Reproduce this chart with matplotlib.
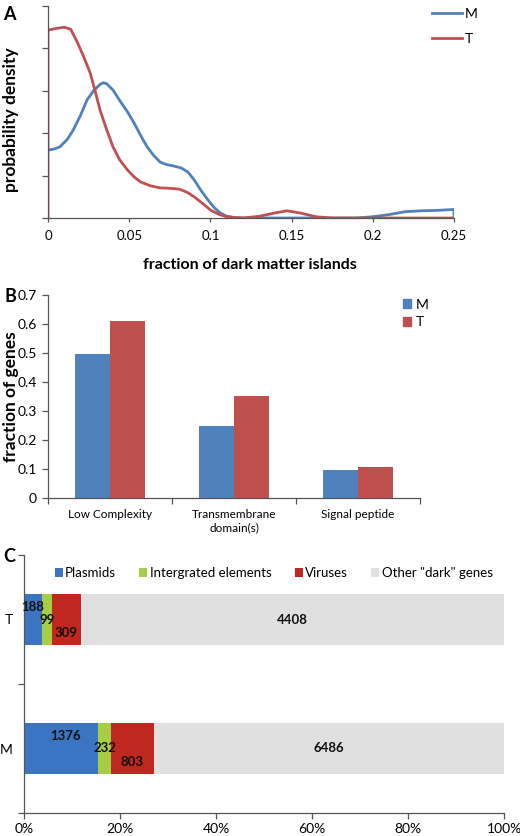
import numpy as np
import matplotlib
matplotlib.use("Agg")
import matplotlib.pyplot as plt
from matplotlib.lines import Line2D
from matplotlib.patches import Patch

plt.rcParams['font.family'] = ['Lato', 'DejaVu Sans']

# ---------------- data ----------------
# Panel A: density curves
m_x = [0, 0.004, 0.0074, 0.012, 0.0156, 0.02, 0.024, 0.028, 0.032, 0.034, 0.036, 0.040, 0.044,
       0.049, 0.053, 0.057, 0.061, 0.065, 0.069, 0.073, 0.077, 0.082, 0.086, 0.09, 0.094,
       0.098, 0.102, 0.106, 0.11, 0.115, 0.12, 0.19, 0.2, 0.21, 0.22, 0.23, 0.24, 0.249, 0.25, 0.25]
m_y = [1.6, 1.63, 1.68, 1.86, 2.08, 2.42, 2.78, 3.0, 3.15, 3.19, 3.17, 3.02, 2.78,
       2.5, 2.24, 1.95, 1.68, 1.48, 1.32, 1.26, 1.23, 1.18, 1.09, 0.90, 0.66,
       0.45, 0.26, 0.12, 0.04, 0.01, 0.0, 0.0, 0.03, 0.08, 0.15, 0.17, 0.18, 0.2, 0.2, 0.0]
t_x = [0, 0, 0.005, 0.01, 0.014, 0.018, 0.022, 0.026, 0.029, 0.032, 0.036, 0.040, 0.044,
       0.049, 0.053, 0.057, 0.063, 0.069, 0.075, 0.081, 0.086, 0.090, 0.095, 0.1, 0.105,
       0.11, 0.115, 0.12, 0.13, 0.14, 0.147, 0.155, 0.165, 0.175, 0.2, 0.25]
t_y = [0, 4.43, 4.47, 4.5, 4.45, 4.15, 3.8, 3.42, 3.0, 2.55, 2.1, 1.68, 1.38,
       1.13, 0.97, 0.85, 0.76, 0.71, 0.70, 0.68, 0.60, 0.50, 0.35, 0.19, 0.09,
       0.03, 0.01, 0.0, 0.04, 0.12, 0.17, 0.12, 0.03, 0.0, 0.0, 0.0]
a_xticks = [0, 0.05, 0.1, 0.15, 0.2, 0.25]
a_xticklabels = ['0', '0.05', '0.1', '0.15', '0.2', '0.25']

# Panel B
b_categories = ['Low Complexity', 'Transmembrane\ndomain(s)', 'Signal peptide']
b_M = [0.495, 0.248, 0.097]
b_T = [0.61, 0.352, 0.107]
b_yticks = [0, 0.1, 0.2, 0.3, 0.4, 0.5, 0.6, 0.7]

# Panel C
c_groups = ['M', 'T']
c_segments = ['Plasmids', 'Intergrated elements', 'Viruses', 'Other "dark" genes']
c_M = [1376, 232, 803, 6486]
c_T = [188, 99, 309, 4408]

# ---------------- styles ----------------
BLUE_A = '#4F81BD'
RED_A = '#C0504D'
C_COLORS = ['#3B74C0', '#A6CE45', '#C0281F', '#E0E0E0']
AX_C = '#555555'

W, H = 520, 836
fig = plt.figure(figsize=(W / 100, H / 100), dpi=100)

def rect(l, t, r, b):
    return [l / W, 1 - b / H, (r - l) / W, (b - t) / H]

def fx(px):
    return px / W

def fy(py):
    return 1 - py / H

def style_spines(ax):
    for s in ['top', 'right']:
        ax.spines[s].set_visible(False)
    for s in ['left', 'bottom']:
        ax.spines[s].set_color(AX_C)
        ax.spines[s].set_linewidth(0.9)

# ---------------- Panel A ----------------
axA = fig.add_axes(rect(48, 6, 454, 218))
axA.plot(m_x, m_y, color=BLUE_A, lw=2.0, solid_joinstyle='round')
axA.plot(t_x, t_y, color=RED_A, lw=2.0, solid_joinstyle='round')
axA.set_xlim(0, 0.25)
axA.set_ylim(0, 5)
axA.set_yticks([0, 1, 2, 3, 4, 5])
axA.set_yticklabels([])
axA.set_xticks(a_xticks)
axA.set_xticklabels(a_xticklabels, fontsize=9.5)
style_spines(axA)
axA.tick_params(axis='y', length=4, color=AX_C, width=0.9)
axA.tick_params(axis='x', length=3, color=AX_C, width=0.9, pad=6)
axA.set_xlabel('fraction of dark matter islands', fontsize=11.5, fontweight='bold')
axA.xaxis.set_label_coords(fx(250), fy(258), transform=fig.transFigure)
axA.set_ylabel('probability density', fontsize=12.5, fontweight='bold')
axA.yaxis.label.set_verticalalignment('center')
axA.yaxis.set_label_coords(fx(11), fy(120), transform=fig.transFigure)
fig.legend(handles=[Line2D([], [], color=BLUE_A, lw=2.0, label='M'),
                    Line2D([], [], color=RED_A, lw=2.0, label='T')],
           loc='upper left', bbox_to_anchor=(fx(422), fy(-2)), frameon=False,
           fontsize=10, handlelength=2.2, handletextpad=0.2, labelspacing=0.95,
           borderpad=0.2)
fig.text(fx(9), fy(14), 'A', fontsize=13, fontweight='bold', ha='center', va='center')

# ---------------- Panel B ----------------
axB = fig.add_axes(rect(48, 295, 420, 498))
x = np.arange(len(b_categories))
bw = 0.282
axB.bar(x - bw / 2, b_M, width=bw, color=BLUE_A, label='M')
axB.bar(x + bw / 2, b_T, width=bw, color=RED_A, label='T')
axB.set_xlim(-0.5, 2.5)
axB.set_ylim(0, 0.7)
axB.set_yticks(b_yticks)
axB.set_yticklabels(['0'] + ['%.1f' % v for v in b_yticks[1:]], fontsize=10)
axB.set_xticks(x)
axB.set_xticklabels(b_categories, fontsize=8.5)
axB.set_xticks([-0.5, 0.5, 1.5, 2.5], minor=True)
axB.tick_params(axis='x', which='major', length=0, pad=8)
axB.tick_params(axis='x', which='minor', length=4, color=AX_C, width=0.9)
axB.tick_params(axis='y', length=4, color=AX_C, width=0.9, pad=4)
style_spines(axB)
axB.set_ylabel('fraction of genes', fontsize=12.5, fontweight='bold')
axB.yaxis.label.set_verticalalignment('center')
axB.yaxis.set_label_coords(fx(11), fy(397), transform=fig.transFigure)
fig.legend(handles=[Patch(color=BLUE_A, label='M'), Patch(color=RED_A, label='T')],
           loc='upper left', bbox_to_anchor=(fx(393), fy(289)), frameon=False,
           fontsize=10, handlelength=0.6, handleheight=0.6, handletextpad=0.35,
           labelspacing=0.4, borderpad=0.2)
fig.text(fx(10), fy(297), 'B', fontsize=13, fontweight='bold', ha='center', va='center')

# ---------------- Panel C ----------------
axC = fig.add_axes(rect(24, 555, 504, 813))
data_c = np.array([c_M, c_T], dtype=float)
pct = data_c / data_c.sum(axis=1, keepdims=True) * 100
left = np.zeros(len(c_groups))
yc = np.arange(len(c_groups))
# label offsets in points (dx, dy) per group, per segment
offs = {0: [(3, 9), (0, 0), (0, -10), (0, 0)],
        1: [(0, 9), (0, 0), (0, -10), (0, 0)]}
for j, seg in enumerate(c_segments):
    axC.barh(yc, pct[:, j], left=left, height=0.4, color=C_COLORS[j], label=seg)
    for i in range(len(c_groups)):
        cx = left[i] + pct[i, j] / 2
        dx, dy = offs[i][j]
        axC.annotate(str(int(data_c[i, j])), (cx, yc[i]), xytext=(dx, dy),
                     textcoords='offset points', ha='center', va='center',
                     fontsize=9.5, fontweight='bold', color='#111111')
    left = left + pct[:, j]
axC.set_xlim(0, 100)
axC.set_ylim(-0.5, 1.5)
axC.set_xticks([0, 20, 40, 60, 80, 100])
axC.set_xticklabels(['0%', '20%', '40%', '60%', '80%', '100%'], fontsize=10)
axC.set_yticks(yc)
axC.set_yticklabels(c_groups, fontsize=10)
axC.set_yticks([-0.5, 0.5, 1.5], minor=True)
axC.tick_params(axis='y', which='major', length=0, pad=8)
axC.tick_params(axis='y', which='minor', length=4, color=AX_C, width=0.9)
axC.tick_params(axis='x', length=4, color=AX_C, width=0.9)
style_spines(axC)
axC.legend(loc='center left', bbox_to_anchor=(fx(48), fy(573)),
           bbox_transform=fig.transFigure, ncol=4, frameon=False, fontsize=9.5,
           handlelength=0.6, handleheight=0.6, handletextpad=0.2, columnspacing=1.75,
           borderpad=0.0)
fig.text(fx(9), fy(556), 'C', fontsize=13, fontweight='bold', ha='center', va='center')

fig.savefig('out.png', dpi=100)
